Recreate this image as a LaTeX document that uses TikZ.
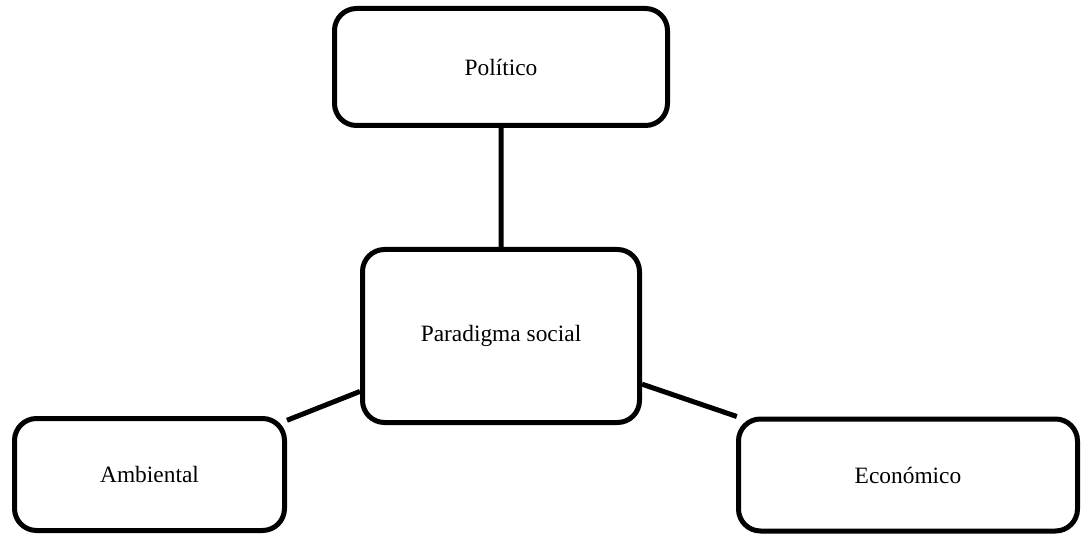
\documentclass[tikz,border=0pt]{standalone}
\usepackage{fontspec}
\setmainfont{Liberation Serif}
\usetikzlibrary{positioning}

\begin{document}
\begin{tikzpicture}[
    x=0.5pt, y=-0.5pt,
    box node/.style={rectangle,draw,rounded corners=11pt,line width=2.5pt,
      inner sep=0pt,font=\fontsize{11.7}{14}\selectfont},
    link/.style={draw,line width=2.5pt}
  ]
    \useasboundingbox (0,0) rectangle (1083,535);

    % Central node and the three surrounding ones
    \node[box node, minimum width=138.5pt, minimum height=86.5pt] (P) at (501, 336) {Paradigma social};
    \node[box node, minimum width=166.5pt, minimum height=58.5pt] (Pol) at (501, 67) {Político};
    \node[box node, minimum width=135pt, minimum height=56pt] (Amb) at (149.5, 474.5) {Ambiental};
    \node[box node, minimum width=169.5pt, minimum height=56pt] (Eco) at (908, 475) {Económico};

    \path[link] (Pol) -- (P)
                (Amb) -- (P)
                (Eco) -- (P);
  \end{tikzpicture}
\end{document}
